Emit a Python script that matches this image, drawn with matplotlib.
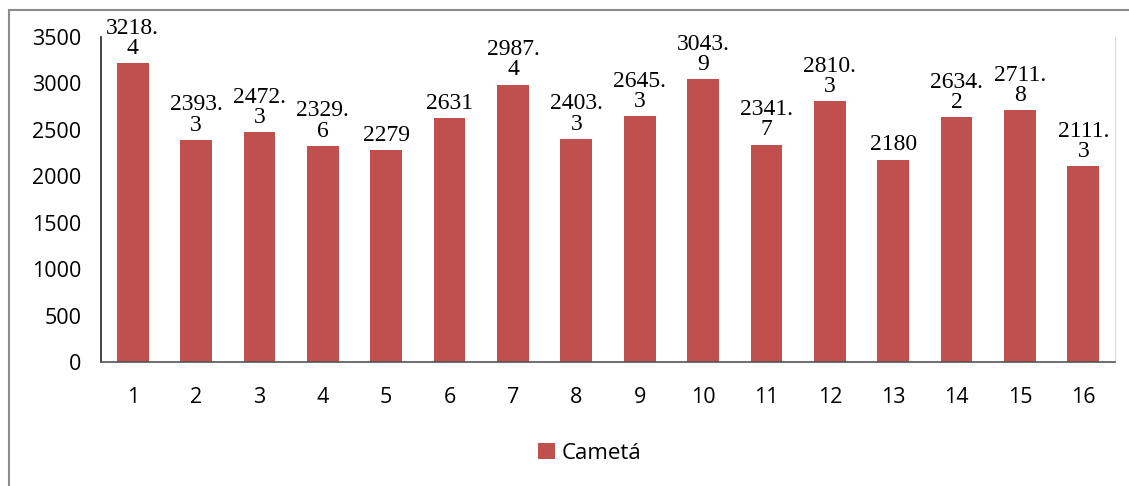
import numpy as np
import matplotlib
matplotlib.use('Agg')
import matplotlib.pyplot as plt
from matplotlib.lines import Line2D

# data
samples = list(range(1, 17))
cameta = [3218.4, 2393.3, 2472.3, 2329.6, 2279, 2631, 2987.4, 2403.3,
          2645.3, 3043.9, 2341.7, 2810.3, 2180, 2634.2, 2711.8, 2111.3]
yticks = [0, 500, 1000, 1500, 2000, 2500, 3000, 3500]

bar_color = '#C0504D'
W, H = 1129, 486

fig = plt.figure(figsize=(W / 100, H / 100), dpi=100)
ax = fig.add_axes([101 / W, 1 - 362 / H, (1115 - 101) / W, (362 - 37) / H])

ax.bar(samples, cameta, width=0.5, color=bar_color, label='Cametá', zorder=2)

# value labels, wrapped after the decimal point like the original
for x, v in zip(samples, cameta):
    if float(v).is_integer():
        txt = str(int(v))
    else:
        txt = f'{v:.1f}'.replace('.', '.\n')
    ax.annotate(txt, (x, v), xytext=(0, 3), textcoords='offset points',
                ha='center', va='bottom', fontsize=17, family='Liberation Serif',
                linespacing=0.95, color='black')

ax.set_xlim(0.5, 16.5)
ax.set_ylim(0, 3500)
ax.set_xticks(samples)
ax.set_yticks(yticks)
ax.tick_params(axis='both', length=0, labelsize=15.5, colors='black')
ax.tick_params(axis='x', pad=18)
ax.tick_params(axis='y', pad=14)
for lab in ax.get_xticklabels() + ax.get_yticklabels():
    lab.set_family('Open Sans')

ax.spines['top'].set_visible(False)
ax.spines['right'].set_color('#d9d9d9')
ax.spines['left'].set_color('#222222')
ax.spines['left'].set_linewidth(1.2)
ax.spines['bottom'].set_color('#555555')
ax.spines['bottom'].set_linewidth(1.2)

leg = fig.legend(loc='center', bbox_to_anchor=(590 / W, 1 - 453 / H), frameon=False,
                 handlelength=0.75, handleheight=0.75, handletextpad=0.3,
                 prop={'family': 'Open Sans', 'size': 16})

# outer frame of the cropped screenshot
fig.add_artist(Line2D([9 / W, 9 / W], [0, 1 - 10 / H], transform=fig.transFigure,
                      color='#8c8c8c', lw=1.5))
fig.add_artist(Line2D([9 / W, 1], [1 - 10 / H, 1 - 10 / H], transform=fig.transFigure,
                      color='#8c8c8c', lw=1.5))

fig.savefig('out.png', dpi=100)
